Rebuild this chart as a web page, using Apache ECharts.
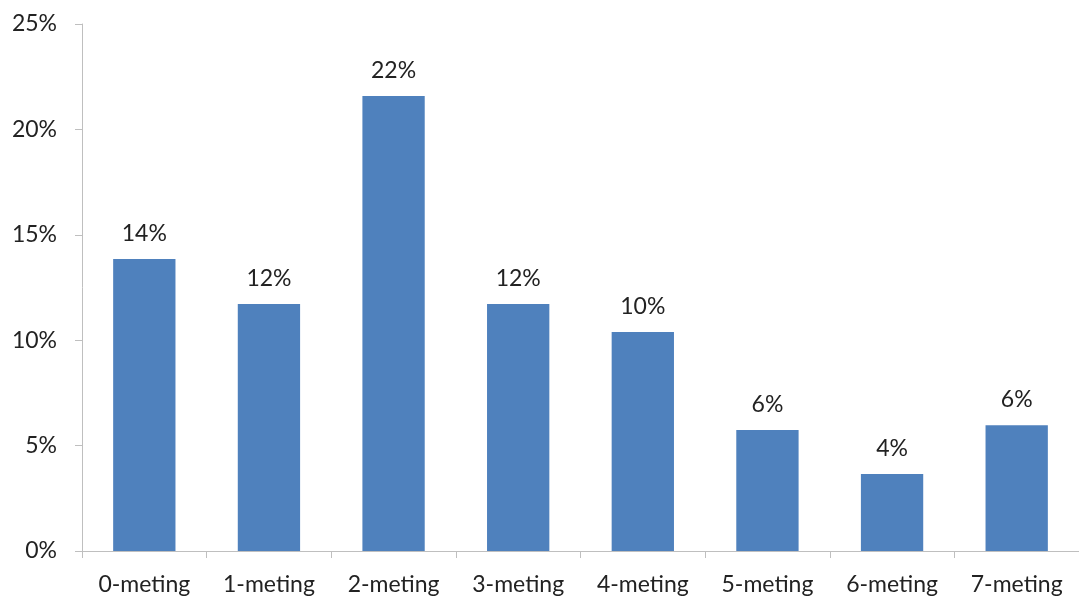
<!DOCTYPE html>
<html>
<head>
<meta charset="utf-8">
<script src="https://cdn.jsdelivr.net/npm/echarts@6/dist/echarts.min.js"></script>
<style>
  html, body { margin: 0; padding: 0; background: #fff; }
  #chart { width: 1079px; height: 599px; }
</style>
</head>
<body>
<div id="chart"></div>
<script>
var categories = ['0-meting', '1-meting', '2-meting', '3-meting', '4-meting', '5-meting', '6-meting', '7-meting'];
var percentages = [13.85, 11.72, 21.58, 11.72, 10.39, 5.74, 3.65, 5.96];
var yTicks = [0, 5, 10, 15, 20, 25];

var fontFamily = 'Lato, "Open Sans", sans-serif';

var option = {
    animation: false,
    grid: {
        left: 82,
        right: -1,
        top: 24,
        bottom: 48
    },
    xAxis: {
        type: 'category',
        data: categories,
        axisLine: { lineStyle: { color: '#bfbfbf', width: 1 } },
        axisTick: { show: true, length: 7, lineStyle: { color: '#bfbfbf' } },
        axisLabel: { color: '#222', fontSize: 23, fontFamily: fontFamily, margin: 22 }
    },
    yAxis: {
        type: 'value',
        min: yTicks[0],
        max: yTicks[yTicks.length - 1],
        interval: 5,
        splitLine: { show: false },
        axisLine: { show: true, lineStyle: { color: '#bfbfbf', width: 1 } },
        axisTick: { show: true, length: 7, lineStyle: { color: '#bfbfbf' } },
        axisLabel: {
            color: '#222',
            fontSize: 23,
            fontFamily: fontFamily,
            margin: 25,
            formatter: function (v) { return v + '%'; }
        }
    },
    series: [{
        type: 'bar',
        data: percentages,
        barWidth: '50%',
        itemStyle: { color: '#4f81bd' },
        label: {
            show: true,
            position: 'top',
            distance: 14,
            color: '#222',
            fontSize: 23,
            fontFamily: fontFamily,
            formatter: function (p) { return Math.round(p.value) + '%'; }
        }
    }]
};

var myChart = echarts.init(document.getElementById('chart'));
myChart.setOption(option, true);
</script>
</body>
</html>
